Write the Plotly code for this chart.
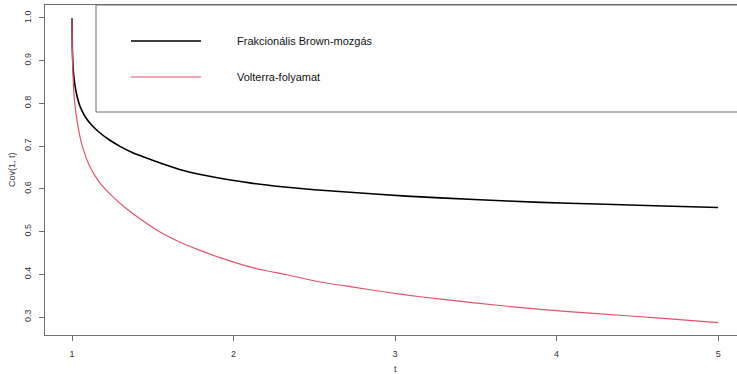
import plotly.graph_objects as go

# Cov(1, t) curves for t in [1, 5]
t_fbm = [1.000, 1.002, 1.005, 1.01, 1.02, 1.035, 1.05, 1.07, 1.09, 1.12, 1.17, 1.23, 1.30, 1.38, 1.47,
         1.55, 1.69, 1.90, 2.10, 2.30, 2.50, 2.72, 3.07, 3.49, 3.90, 4.25, 4.66, 5.00]
cov_fbm = [1.000, 0.930, 0.895, 0.868, 0.838, 0.811, 0.793, 0.777, 0.764, 0.750, 0.732, 0.715, 0.699, 0.684, 0.671,
           0.660, 0.643, 0.626, 0.614, 0.605, 0.598, 0.592, 0.583, 0.575, 0.5685, 0.5645, 0.560, 0.5565]

t_volt = [1.000, 1.001, 1.004, 1.014, 1.035, 1.066, 1.107, 1.169, 1.252, 1.33, 1.421, 1.545, 1.669, 1.793,
          1.916, 2.123, 2.329, 2.536, 2.742, 2.949, 3.155, 3.49, 3.90, 4.25, 4.66, 5.00]
cov_volt = [1.000, 0.960, 0.890, 0.812, 0.750, 0.697, 0.655, 0.616, 0.582, 0.556, 0.530, 0.499, 0.475, 0.456,
            0.439, 0.415, 0.399, 0.382, 0.370, 0.358, 0.3475, 0.333, 0.318, 0.308, 0.297, 0.287]

series_names = ["Frakcionális Brown-mozgás", "Volterra-folyamat"]
series_colors = ["#000000", "#DF536B"]

x_ticks = [1, 2, 3, 4, 5]
y_ticks = [0.3, 0.4, 0.5, 0.6, 0.7, 0.8, 0.9, 1.0]
y_tick_labels = ["0.3", "0.4", "0.5", "0.6", "0.7", "0.8", "0.9", "1.0"]

W, H = 737, 374
ML, MR, MT, MB = 45, 0, 5, 39
PW, PH = W - ML - MR, H - MT - MB


def px(x):
    return (x - ML) / PW


def py(y):
    return (H - MB - y) / PH


fig = go.Figure()
fig.add_trace(go.Scatter(x=t_fbm, y=cov_fbm, mode="lines", name=series_names[0],
                         line=dict(color=series_colors[0], width=1.6, shape="spline", smoothing=0.5)))
fig.add_trace(go.Scatter(x=t_volt, y=cov_volt, mode="lines", name=series_names[1],
                         line=dict(color=series_colors[1], width=1.2, shape="spline", smoothing=0.5)))

axis_col = "#6e6e6e"
font_family = "Liberation Sans, Arial, sans-serif"
tick_font = dict(family=font_family, size=9, color="#333333")

fig.update_xaxes(range=[0.8328, 5.1167], tickvals=x_ticks, ticktext=[str(v) for v in x_ticks],
                 showgrid=False, zeroline=False, showline=True, linecolor=axis_col, linewidth=1,
                 mirror=True, ticks="outside", ticklen=5, tickcolor=axis_col, tickfont=tick_font,
                 ticklabelstandoff=5)
fig.update_yaxes(range=[0.258, 1.0304], tickvals=y_ticks, ticktext=y_tick_labels,
                 showgrid=False, zeroline=False, showline=True, linecolor=axis_col, linewidth=1,
                 mirror=False, ticks="outside", ticklen=5, tickcolor=axis_col, tickfont=tick_font,
                 tickangle=-90, ticklabelstandoff=4)

# legend box, keys and labels
shapes = [
    dict(type="rect", xref="paper", yref="paper", x0=px(96), x1=px(760), y0=py(112), y1=py(5),
         line=dict(color=axis_col, width=1), fillcolor="rgba(0,0,0,0)"),
]
annotations = []
key_widths = [1.3, 1.1]
for i, (name, col) in enumerate(zip(series_names, series_colors)):
    yy = py(41 + 36 * i)
    shapes.append(dict(type="line", xref="paper", yref="paper", x0=px(131), x1=px(201), y0=yy, y1=yy,
                       line=dict(color=col, width=key_widths[i])))
    annotations.append(dict(xref="paper", yref="paper", x=px(235), y=yy, text=name, showarrow=False,
                            xanchor="left", yanchor="middle",
                            font=dict(family=font_family, size=11, color="#111111")))

# axis titles
annotations.append(dict(xref="paper", yref="paper", x=px(395), y=py(369), text="t", showarrow=False,
                        xanchor="center", yanchor="middle",
                        font=dict(family=font_family, size=9, color="#333333")))
annotations.append(dict(xref="paper", yref="paper", x=px(12), y=py(170), text="Cov(1, t)", showarrow=False,
                        xanchor="center", yanchor="middle", textangle=-90,
                        font=dict(family=font_family, size=9, color="#333333")))

fig.update_layout(width=W, height=H, margin=dict(l=ML, r=MR, t=MT, b=MB),
                  paper_bgcolor="white", plot_bgcolor="white", showlegend=False,
                  shapes=shapes, annotations=annotations)

fig.write_html("out.html")
